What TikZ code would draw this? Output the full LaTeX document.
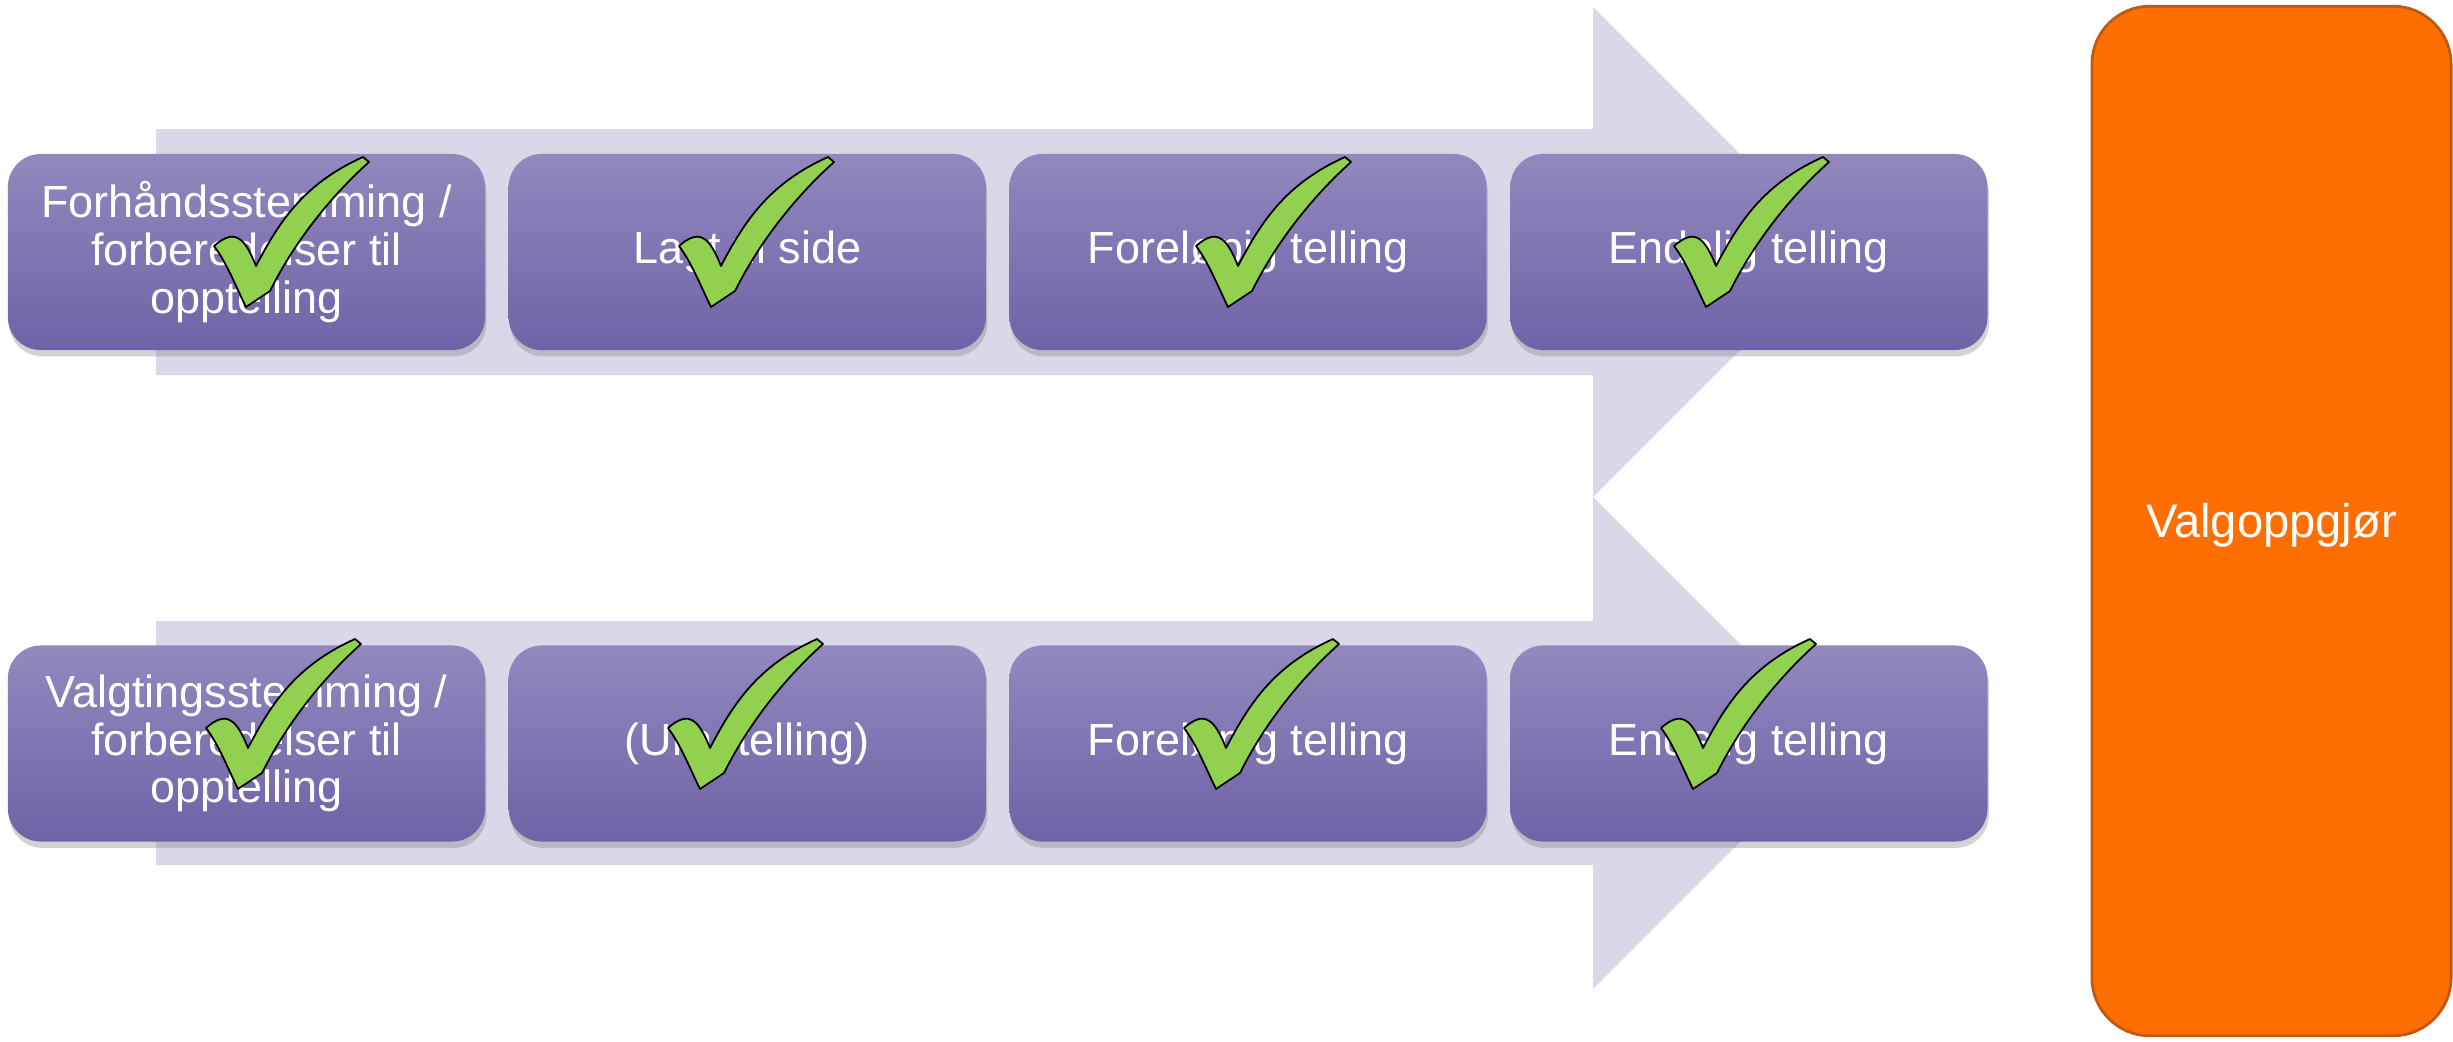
\documentclass[tikz,border=0pt]{standalone}
\usepackage{fontspec}
\setmainfont{Liberation Sans}
\usetikzlibrary{shadows}
\definecolor{lavender}{HTML}{D9D7E8}
\definecolor{boxtop}{HTML}{9189BE}
\definecolor{boxbottom}{HTML}{7062A7}
\definecolor{tickgreen}{HTML}{92D050}
\definecolor{oppgjorfill}{HTML}{FF6E00}
\definecolor{oppgjordraw}{HTML}{C05A12}

\begin{document}
\begin{tikzpicture}[x=0.01cm, y=-0.01cm, node distance = 5.005cm,
    fase/.style = {rounded corners=0.33cm, minimum width=4.77cm, minimum height=1.96cm,
        top color=boxtop, bottom color=boxbottom, text=white, align=center,
        font=\fontsize{12.8}{13.6}\selectfont,
        drop shadow={shadow xshift=0.4pt, shadow yshift=-1.8pt, opacity=0.35}},
    oppgjor/.style = {rounded corners=0.58cm, minimum width=3.59cm, minimum height=10.29cm,
        fill=oppgjorfill, draw=oppgjordraw, line width=0.8pt, text=white,
        font=\fontsize{13.4}{14}\selectfont, text height=9.6pt, text depth=0pt},
    tick/.style = {fill=tickgreen, draw=black, line width=0.5pt, line join=round}]
    \useasboundingbox (0,0) rectangle (2453,1042);
    % the two big arrows behind the boxes
    \fill[lavender] (156,129) -- (1593,129) -- (1593,7) -- (1838,252) -- (1593,497)
        -- (1593,375) -- (156,375) -- cycle;
    \fill[lavender] (156,621) -- (1593,621) -- (1593,497) -- (1839,743) -- (1593,989)
        -- (1593,865) -- (156,865) -- cycle;
    % top row
    \node[fase](f1) at (246.5,252) {Forhåndsstemming /\\forberedelser til\\opptelling};
    \node[fase](f2) [right of=f1] {Lagt til side};
    \node[fase](f3) [right of=f2] {Foreløpig telling};
    \node[fase](f4) [right of=f3] {Endelig telling};
    % bottom row
    \node[fase](v1) at (246.5,743.5) {Valgtingsstemming /\\forberedelser til\\opptelling};
    \node[fase](v2) [right of=v1] {(Urnetelling)};
    \node[fase](v3) [right of=v2] {Foreløpig telling};
    \node[fase](v4) [right of=v3] {Endelig telling};
    \node[oppgjor](valg) at (2271.5,521) {Valgoppgjør};
    % checkmarks
    \foreach \cx/\cy in {291/232, 756/232, 1273/232, 1751/232, 283/714, 745/714, 1261/714, 1738/714}
        \filldraw[tick, shift={(\cx,\cy)}] (72,-75) -- (78,-70)
            .. controls (38,-34) and (3,11) .. (-21,59) -- (-45,75)
            .. controls (-53.9,57.1) and (-64.7,29.8) .. (-77,14)
            .. controls (-56,-4.5) and (-46.1,6.1) .. (-35,34)
            .. controls (-11.8,-10.3) and (12.6,-48.3) .. cycle;
\end{tikzpicture}
\end{document}
